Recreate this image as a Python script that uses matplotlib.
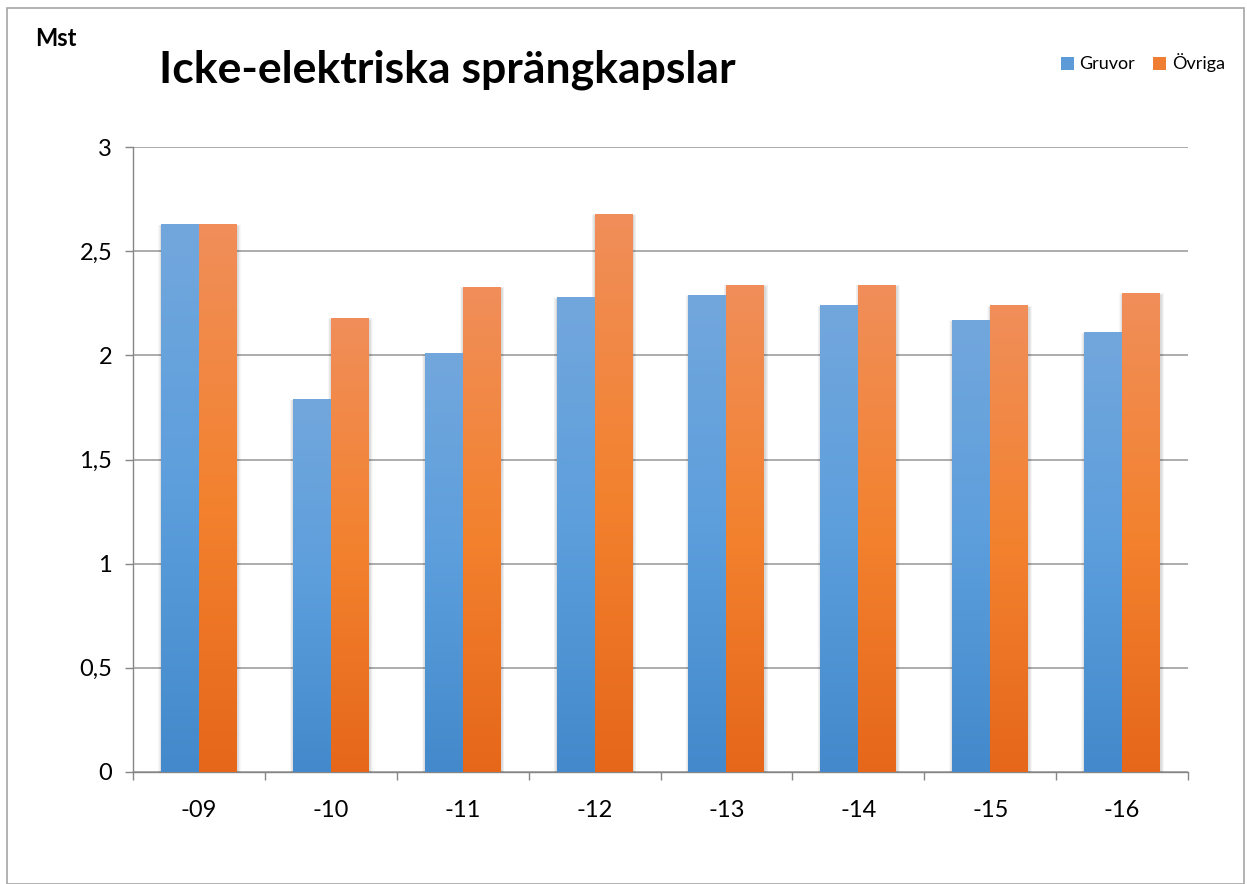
import matplotlib.pyplot as plt
import numpy as np
from matplotlib.patches import Rectangle
from matplotlib.colors import LinearSegmentedColormap

plt.rcParams['font.family'] = ['Lato', 'DejaVu Sans']

# Data
years = ['-09', '-10', '-11', '-12', '-13', '-14', '-15', '-16']
gruvor = [2.63, 1.79, 2.01, 2.28, 2.29, 2.24, 2.17, 2.11]
ovriga = [2.63, 2.18, 2.33, 2.68, 2.34, 2.34, 2.24, 2.30]
yticks = [0, 0.5, 1, 1.5, 2, 2.5, 3]
ylabels = ['0', '0,5', '1', '1,5', '2', '2,5', '3']

blue_grad = LinearSegmentedColormap.from_list('b', ['#4389CB', '#5C9EDC', '#72A7DC'])
orange_grad = LinearSegmentedColormap.from_list('o', ['#E6671A', '#F3822F', '#F08E5A'])

fig = plt.figure(figsize=(12.47, 8.84), dpi=100)
ax = fig.add_axes([133/1247, 1-772/884, (1188-133)/1247, (772-147)/884])

# outer frame
fig.patches.append(Rectangle((7/1247, 0), 1237/1247, 1-8/884, transform=fig.transFigure,
                             fill=False, edgecolor='#A6A6A6', linewidth=1.2))

x = np.arange(len(years))
w = 0.288
b1 = ax.bar(x - w/2, gruvor, w, color='none', label='Gruvor', zorder=3)
b2 = ax.bar(x + w/2, ovriga, w, color='none', label='Övriga', zorder=3)

grad = np.linspace(0, 1, 256).reshape(-1, 1)
for bars, cmap in [(b1, blue_grad), (b2, orange_grad)]:
    for p in bars:
        x0, y0 = p.get_x(), p.get_y()
        pw, ph = p.get_width(), p.get_height()
        # soft shadow (sides only)
        for k in range(1, 6):
            ax.add_patch(Rectangle((x0 - 0.005*k + 0.004, y0), pw + 0.010*k, ph - 0.012 + 0.002*k,
                                   facecolor='black', alpha=0.03, linewidth=0, zorder=2))
        im = ax.imshow(grad, cmap=cmap, aspect='auto', origin='lower',
                       extent=[x0, x0 + pw, y0, y0 + ph], zorder=4)
        im.set_clip_path(p)

# legend
handles = [Rectangle((0, 0), 1, 1, facecolor='#5C9BD8'),
           Rectangle((0, 0), 1, 1, facecolor='#F07E32')]
fig.legend(handles, ['Gruvor', 'Övriga'], loc='center left', bbox_to_anchor=(1061/1247, 1-63/884),
           ncol=2, frameon=False, fontsize=13, handlelength=0.72, handleheight=0.72,
           handletextpad=0.3, columnspacing=1.0, borderpad=0, borderaxespad=0)

ax.set_xlim(-0.5, len(years) - 0.5)
ax.set_ylim(0, 3)
ax.set_yticks(yticks)
ax.set_yticklabels(ylabels)
ax.set_xticks(x)
ax.set_xticklabels(years)
ax.set_xticks(np.arange(len(years) + 1) - 0.5, minor=True)
ax.tick_params(axis='x', which='major', length=0, pad=20, labelsize=17)
ax.tick_params(axis='x', which='minor', length=6, color='#868686', width=1)
ax.tick_params(axis='y', length=6, color='#868686', width=1, pad=9, labelsize=17)

ax.grid(axis='y', color='#A6A6A6', linewidth=1.3, zorder=1)
ax.set_axisbelow(True)
for s in ['top', 'right']:
    ax.spines[s].set_visible(False)
for s in ['left', 'bottom']:
    ax.spines[s].set_color('#868686')
    ax.spines[s].set_linewidth(1)

fig.text(35/1247, 1-39/884, 'Mst', fontsize=17, fontweight='bold', va='center', ha='left')
fig.text(447/1247, 1-70/884, 'Icke-elektriska sprängkapslar', fontsize=32, fontweight='bold',
         va='center', ha='center')

plt.savefig('out.png', dpi=100)
